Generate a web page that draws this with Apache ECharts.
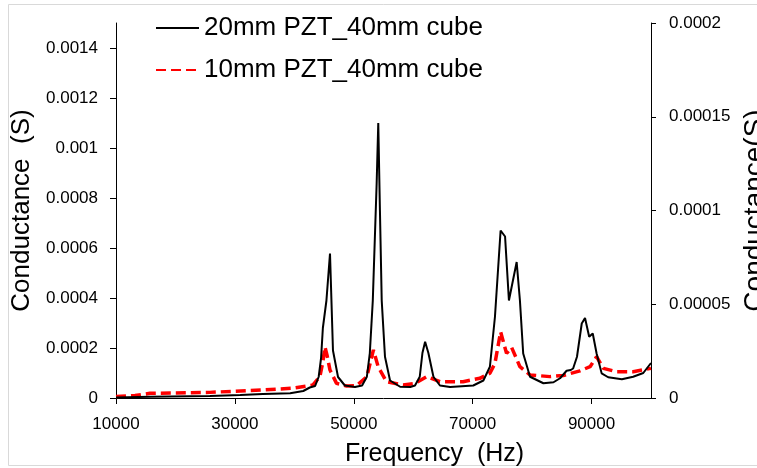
<!DOCTYPE html>
<html>
<head>
<meta charset="utf-8">
<script src="https://cdn.jsdelivr.net/npm/echarts@6/dist/echarts.min.js"></script>
<style>
html,body{margin:0;padding:0;background:#fff;}
#chart{width:757px;height:468px;}
</style>
</head>
<body>
<div id="chart"></div>
<script>
// ---- Data ----
const seriesNames = ['20mm PZT_40mm cube', '10mm PZT_40mm cube'];

// 20mm PZT (left axis, S)
const freq20 = [10000, 15700, 25800, 30900, 34700, 39300, 41500, 42600, 43500, 44100, 44500, 44800, 45400, 46000, 46500, 47350, 48500, 50200, 51400, 52200, 52700, 53200, 53850, 54120, 54400, 54700, 55250, 56100, 57800, 59500, 60300, 61100, 61550, 62000, 62550, 63400, 64500, 66200, 70100, 71800, 72900, 73750, 74700, 75450, 76100, 77400, 77950, 78500, 79650, 81900, 83600, 84700, 85800, 86500, 86900, 87550, 88350, 88900, 89600, 90200, 90850, 91700, 92800, 95100, 97000, 98700, 100000];
const cond20 = [0.000002, 0.000005, 0.000008, 0.000012, 0.000016, 0.000019, 0.000028, 0.000042, 0.000048, 0.000085, 0.00016, 0.00028, 0.00039, 0.000578, 0.00019, 0.000084, 0.00005, 0.000044, 0.00005, 0.000085, 0.00018, 0.00039, 0.00086, 0.0011, 0.00075, 0.00039, 0.000165, 0.00007, 0.000045, 0.000044, 0.00005, 0.000085, 0.00018, 0.000225, 0.00018, 0.000085, 0.00005, 0.000044, 0.00005, 0.00007, 0.000125, 0.000325, 0.00067, 0.000646, 0.00039, 0.000544, 0.00039, 0.000178, 0.000085, 0.000059, 0.000063, 0.000079, 0.000109, 0.000112, 0.000118, 0.000165, 0.000298, 0.00032, 0.000245, 0.000258, 0.000178, 0.0000985, 0.000083, 0.000075, 0.000085, 0.0001, 0.00014];

// 10mm PZT (right axis, S)
const freq10 = [10000, 13200, 15700, 25800, 34700, 39600, 43100, 44300, 44800, 45150, 45500, 46000, 47100, 48800, 50500, 52200, 53300, 54100, 55500, 58300, 60300, 62300, 64500, 68400, 71200, 72900, 73750, 74700, 75700, 76550, 77950, 79650, 83000, 85250, 88050, 89750, 90850, 92000, 94200, 97000, 100000];
const cond10 = [0.0000008, 0.0000013, 0.0000025, 0.000003, 0.0000043, 0.0000052, 0.0000069, 0.0000114, 0.0000192, 0.0000273, 0.0000229, 0.0000149, 0.0000078, 0.0000064, 0.0000066, 0.0000114, 0.0000256, 0.0000167, 0.0000087, 0.0000069, 0.0000078, 0.0000114, 0.0000087, 0.0000087, 0.0000105, 0.0000132, 0.0000185, 0.0000353, 0.0000238, 0.000027, 0.0000167, 0.0000123, 0.0000114, 0.000012, 0.0000145, 0.0000167, 0.000022, 0.0000158, 0.000014, 0.000014, 0.0000158];

// Axis ticks
const xTicks = [10000, 30000, 50000, 70000, 90000];
const leftTicks = [0, 0.0002, 0.0004, 0.0006, 0.0008, 0.001, 0.0012, 0.0014];
const rightTicks = [0, 0.00005, 0.0001, 0.00015, 0.0002];

// ---- Chart ----
const FONT = "'Liberation Sans', Arial, sans-serif";
const fmt = v => String(+(+v).toFixed(7));
const chart = echarts.init(document.getElementById('chart'), null, {renderer: 'canvas'});

const pairs = (xs, ys) => xs.map((x, i) => [x, ys[i]]);

chart.setOption({
  animation: false,
  backgroundColor: '#ffffff',
  textStyle: {fontFamily: FONT},
  graphic: [{
    type: 'rect', z: -10, silent: true,
    shape: {x: 8.5, y: 4.5, width: 800, height: 461},
    style: {fill: 'none', stroke: '#d9d9d9', lineWidth: 1}
  }],
  grid: {left: 116, right: 106, top: 23, bottom: 70, containLabel: false, outerBoundsMode: 'none'},
  legend: {
    orient: 'vertical', left: 155, top: 15, padding: 0,
    itemWidth: 43, itemHeight: 25, itemGap: 16,
    itemStyle: {opacity: 0},
    textStyle: {fontSize: 26, color: '#000', fontFamily: FONT},
    data: seriesNames
  },
  xAxis: {
    type: 'value', min: 10000, max: 100000,
    name: 'Frequency  (Hz)', nameLocation: 'middle', nameGap: 44,
    nameTextStyle: {fontSize: 25, color: '#000', fontFamily: FONT, padding: [0, 0, 0, 102]},
    axisLine: {show: true, lineStyle: {color: '#000', width: 1}},
    axisTick: {show: true, length: 6, lineStyle: {color: '#000'}, customValues: xTicks},
    axisLabel: {fontSize: 17, color: '#000', margin: 18, customValues: xTicks, formatter: v => String(v)},
    splitLine: {show: false}
  },
  yAxis: [{
    type: 'value', min: 0, max: 0.0015, position: 'left',
    name: 'Conductance  (S)', nameLocation: 'middle', nameGap: 77, nameRotate: 90,
    nameTextStyle: {fontSize: 26, color: '#000', fontFamily: FONT},
    axisLine: {show: true, lineStyle: {color: '#000', width: 1}},
    axisTick: {show: true, length: 6, lineStyle: {color: '#000'}, customValues: leftTicks},
    axisLabel: {fontSize: 17, color: '#000', margin: 18, customValues: leftTicks, formatter: fmt},
    splitLine: {show: false}
  }, {
    type: 'value', min: 0, max: 0.0002, interval: 0.00005, position: 'right',
    name: 'Conductance(S)', nameLocation: 'middle', nameGap: 80, nameRotate: 90,
    nameTextStyle: {fontSize: 28, color: '#000', fontFamily: FONT},
    axisLine: {show: true, lineStyle: {color: '#000', width: 1}},
    axisTick: {show: true, length: 5, lineStyle: {color: '#000'}},
    axisLabel: {fontSize: 17, color: '#000', margin: 18, formatter: fmt},
    splitLine: {show: false}
  }],
  series: [{
    name: seriesNames[0], type: 'line', yAxisIndex: 0,
    data: pairs(freq20, cond20),
    symbol: 'none', smooth: false,
    lineStyle: {color: '#000', width: 2},
    itemStyle: {color: '#000'},
    z: 3
  }, {
    name: seriesNames[1], type: 'line', yAxisIndex: 1,
    data: pairs(freq10, cond10),
    symbol: 'none', smooth: false,
    lineStyle: {color: '#ff0000', width: 3.5, type: [10, 5]},
    itemStyle: {color: '#ff0000'},
    z: 2
  }]
});
</script>
</body>
</html>
